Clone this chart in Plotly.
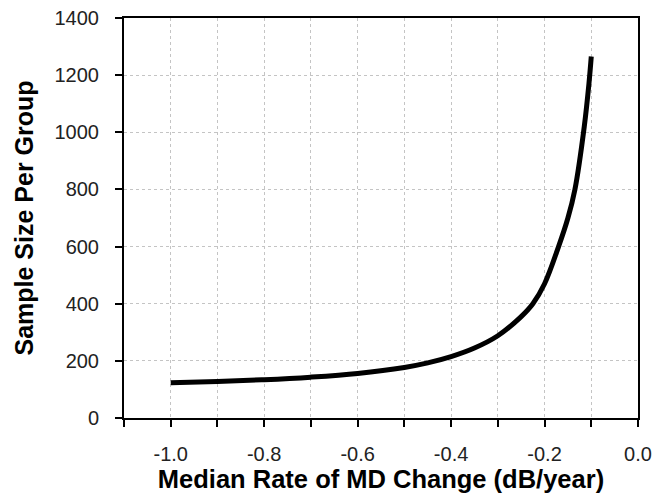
import plotly.graph_objects as go

# Values
rate = [-1.0, -0.9, -0.8, -0.7, -0.6, -0.5, -0.45, -0.4, -0.35, -0.3, -0.25,
        -0.225, -0.2, -0.17, -0.15, -0.135, -0.115, -0.105, -0.1]
sample_size = [123, 128, 134, 143, 156, 177, 193, 215, 245, 288, 355,
               400, 470, 600, 700, 800, 1020, 1170, 1265]

x_tickvals = [-1.0, -0.8, -0.6, -0.4, -0.2, 0.0]
x_ticktext = ["-1.0", "-0.8", "-0.6", "-0.4", "-0.2", "0.0"]
y_tickvals = [0, 200, 400, 600, 800, 1000, 1200, 1400]

fig = go.Figure()
fig.add_trace(go.Scatter(
    x=rate, y=sample_size, mode="lines",
    line=dict(color="black", width=5, shape="spline", smoothing=1.0),
    showlegend=False, hoverinfo="skip",
))

font_family = "Liberation Sans, Arial, sans-serif"

fig.update_layout(
    width=654, height=498,
    margin=dict(l=124, r=16, t=18, b=80),
    paper_bgcolor="white", plot_bgcolor="white",
    font=dict(family=font_family, color="black", size=20),
)

fig.update_xaxes(
    range=[-1.1, 0.0], automargin=False,
    tickmode="array", tickvals=x_tickvals, ticktext=x_ticktext,
    ticks="outside", ticklen=7, tickwidth=2, tickcolor="black",
    ticklabelstandoff=10,
    tickfont=dict(size=20, color="#222"),
    showgrid=True, gridcolor="#c4c4c4", gridwidth=1, griddash="dot",
    minor=dict(dtick=0.1, tick0=0, ticks="outside", ticklen=7, tickwidth=2,
               tickcolor="black", showgrid=True, gridcolor="#c4c4c4",
               griddash="dot", gridwidth=1),
    showline=True, linecolor="black", linewidth=2, mirror=True,
    zeroline=False,
    title=dict(text="<b>Median Rate of MD Change (dB/year)</b>",
               font=dict(size=25.5, color="black"), standoff=0),
)

fig.update_yaxes(
    range=[0, 1400], automargin=False,
    tickmode="array", tickvals=y_tickvals,
    ticks="outside", ticklen=7, tickwidth=2, tickcolor="black",
    ticklabelstandoff=12,
    tickfont=dict(size=20, color="#222"),
    showgrid=True, gridcolor="#c4c4c4", gridwidth=1, griddash="dot",
    showline=True, linecolor="black", linewidth=2, mirror=True,
    zeroline=False,
    title=dict(text="<b>Sample Size Per Group</b>",
               font=dict(size=25, color="black"), standoff=14),
)

fig.write_html("out.html")
